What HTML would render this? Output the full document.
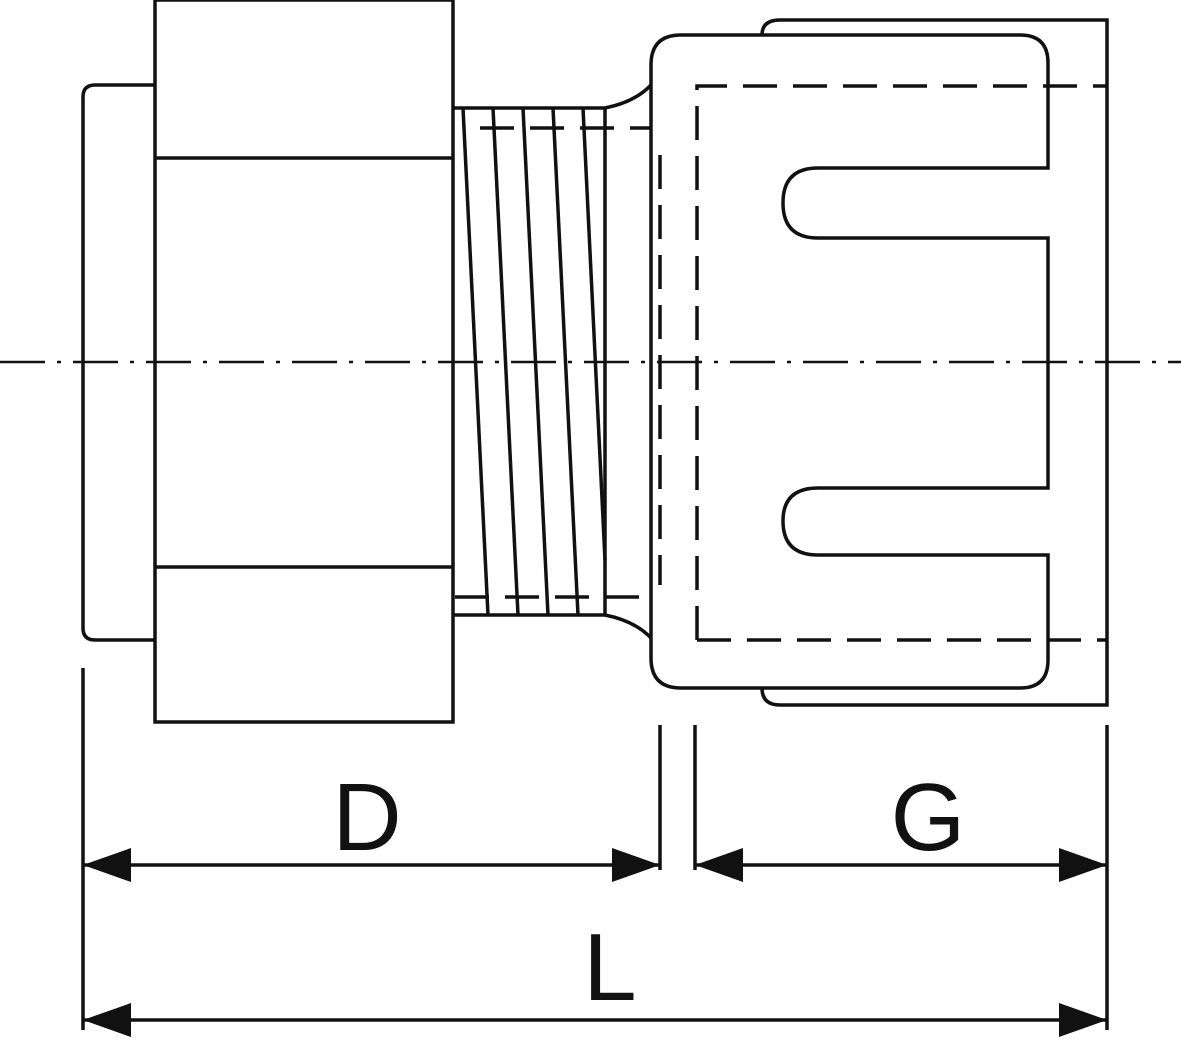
<!DOCTYPE html>
<html><head><style>html,body{margin:0;padding:0;background:#fff}svg{display:block}</style></head>
<body>
<svg width="1181" height="1039" viewBox="0 0 1181 1039" xmlns="http://www.w3.org/2000/svg">
<g fill="none" stroke="#111" stroke-width="3.5">
<path d="M155 85 H95 Q83 85 83 97 V628 Q83 640 95 640 H155"/>
<rect x="155" y="0" width="298" height="722"/>
<line x1="155" y1="158" x2="453" y2="158"/>
<line x1="155" y1="567" x2="453" y2="567"/>
<path d="M453 108 H605 V615 H453"/>
<line x1="463" y1="108" x2="488" y2="615"/>
<line x1="493" y1="108" x2="518" y2="615"/>
<line x1="523" y1="108" x2="548" y2="615"/>
<line x1="553" y1="108" x2="578" y2="615"/>
<line x1="583" y1="108" x2="605" y2="560"/>
<path d="M605 108 Q635 102 651 85"/>
<path d="M605 615 Q635 621 651 638"/>
<path d="M651 85 V65 Q651 35 681 35 H1020 Q1048 35 1048 63 V168 H818 Q783 168 783 203 Q783 238 818 238 H1048 V488 H818 Q783 488 783 521 Q783 555 818 555 H1048 V660 Q1048 688 1020 688 H681 Q651 688 651 658 V85"/>
<path d="M762 35 Q762 20 780 20 H1107 V705 H780 Q762 705 762 688"/>
<line x1="83" y1="668" x2="83" y2="1030"/>
<line x1="660" y1="725" x2="660" y2="870"/>
<line x1="695" y1="725" x2="695" y2="870"/>
<line x1="1107" y1="725" x2="1107" y2="1030"/>
<line x1="83" y1="865" x2="660" y2="865"/>
<line x1="695" y1="865" x2="1107" y2="865"/>
<line x1="83" y1="1020" x2="1107" y2="1020"/>
</g>
<g fill="none" stroke="#111" stroke-width="3.5" stroke-dasharray="34 16">
<path d="M697 640 V86 H1107"/>
<path d="M697 640 H1107"/>
<line x1="660" y1="155" x2="660" y2="585"/>
<line x1="480" y1="128" x2="651" y2="128"/>
<line x1="455" y1="597" x2="651" y2="597"/>
</g>
<line x1="0" y1="362" x2="1181" y2="362" stroke="#111" stroke-width="2.5" stroke-dasharray="45 12 4 12"/>
<g fill="#111">
<polygon points="83,865 131,848 131,882"/>
<polygon points="660,865 612,848 612,882"/>
<polygon points="695,865 743,848 743,882"/>
<polygon points="1107,865 1059,848 1059,882"/>
<polygon points="83,1020 131,1003 131,1037"/>
<polygon points="1107,1020 1059,1003 1059,1037"/>
</g>
<g font-family="Liberation Sans, sans-serif" font-size="96" fill="#111" text-anchor="middle">
<text x="367" y="850">D</text>
<text x="928" y="850">G</text>
<text x="610" y="1000">L</text>
</g>
</svg>
</body></html>
